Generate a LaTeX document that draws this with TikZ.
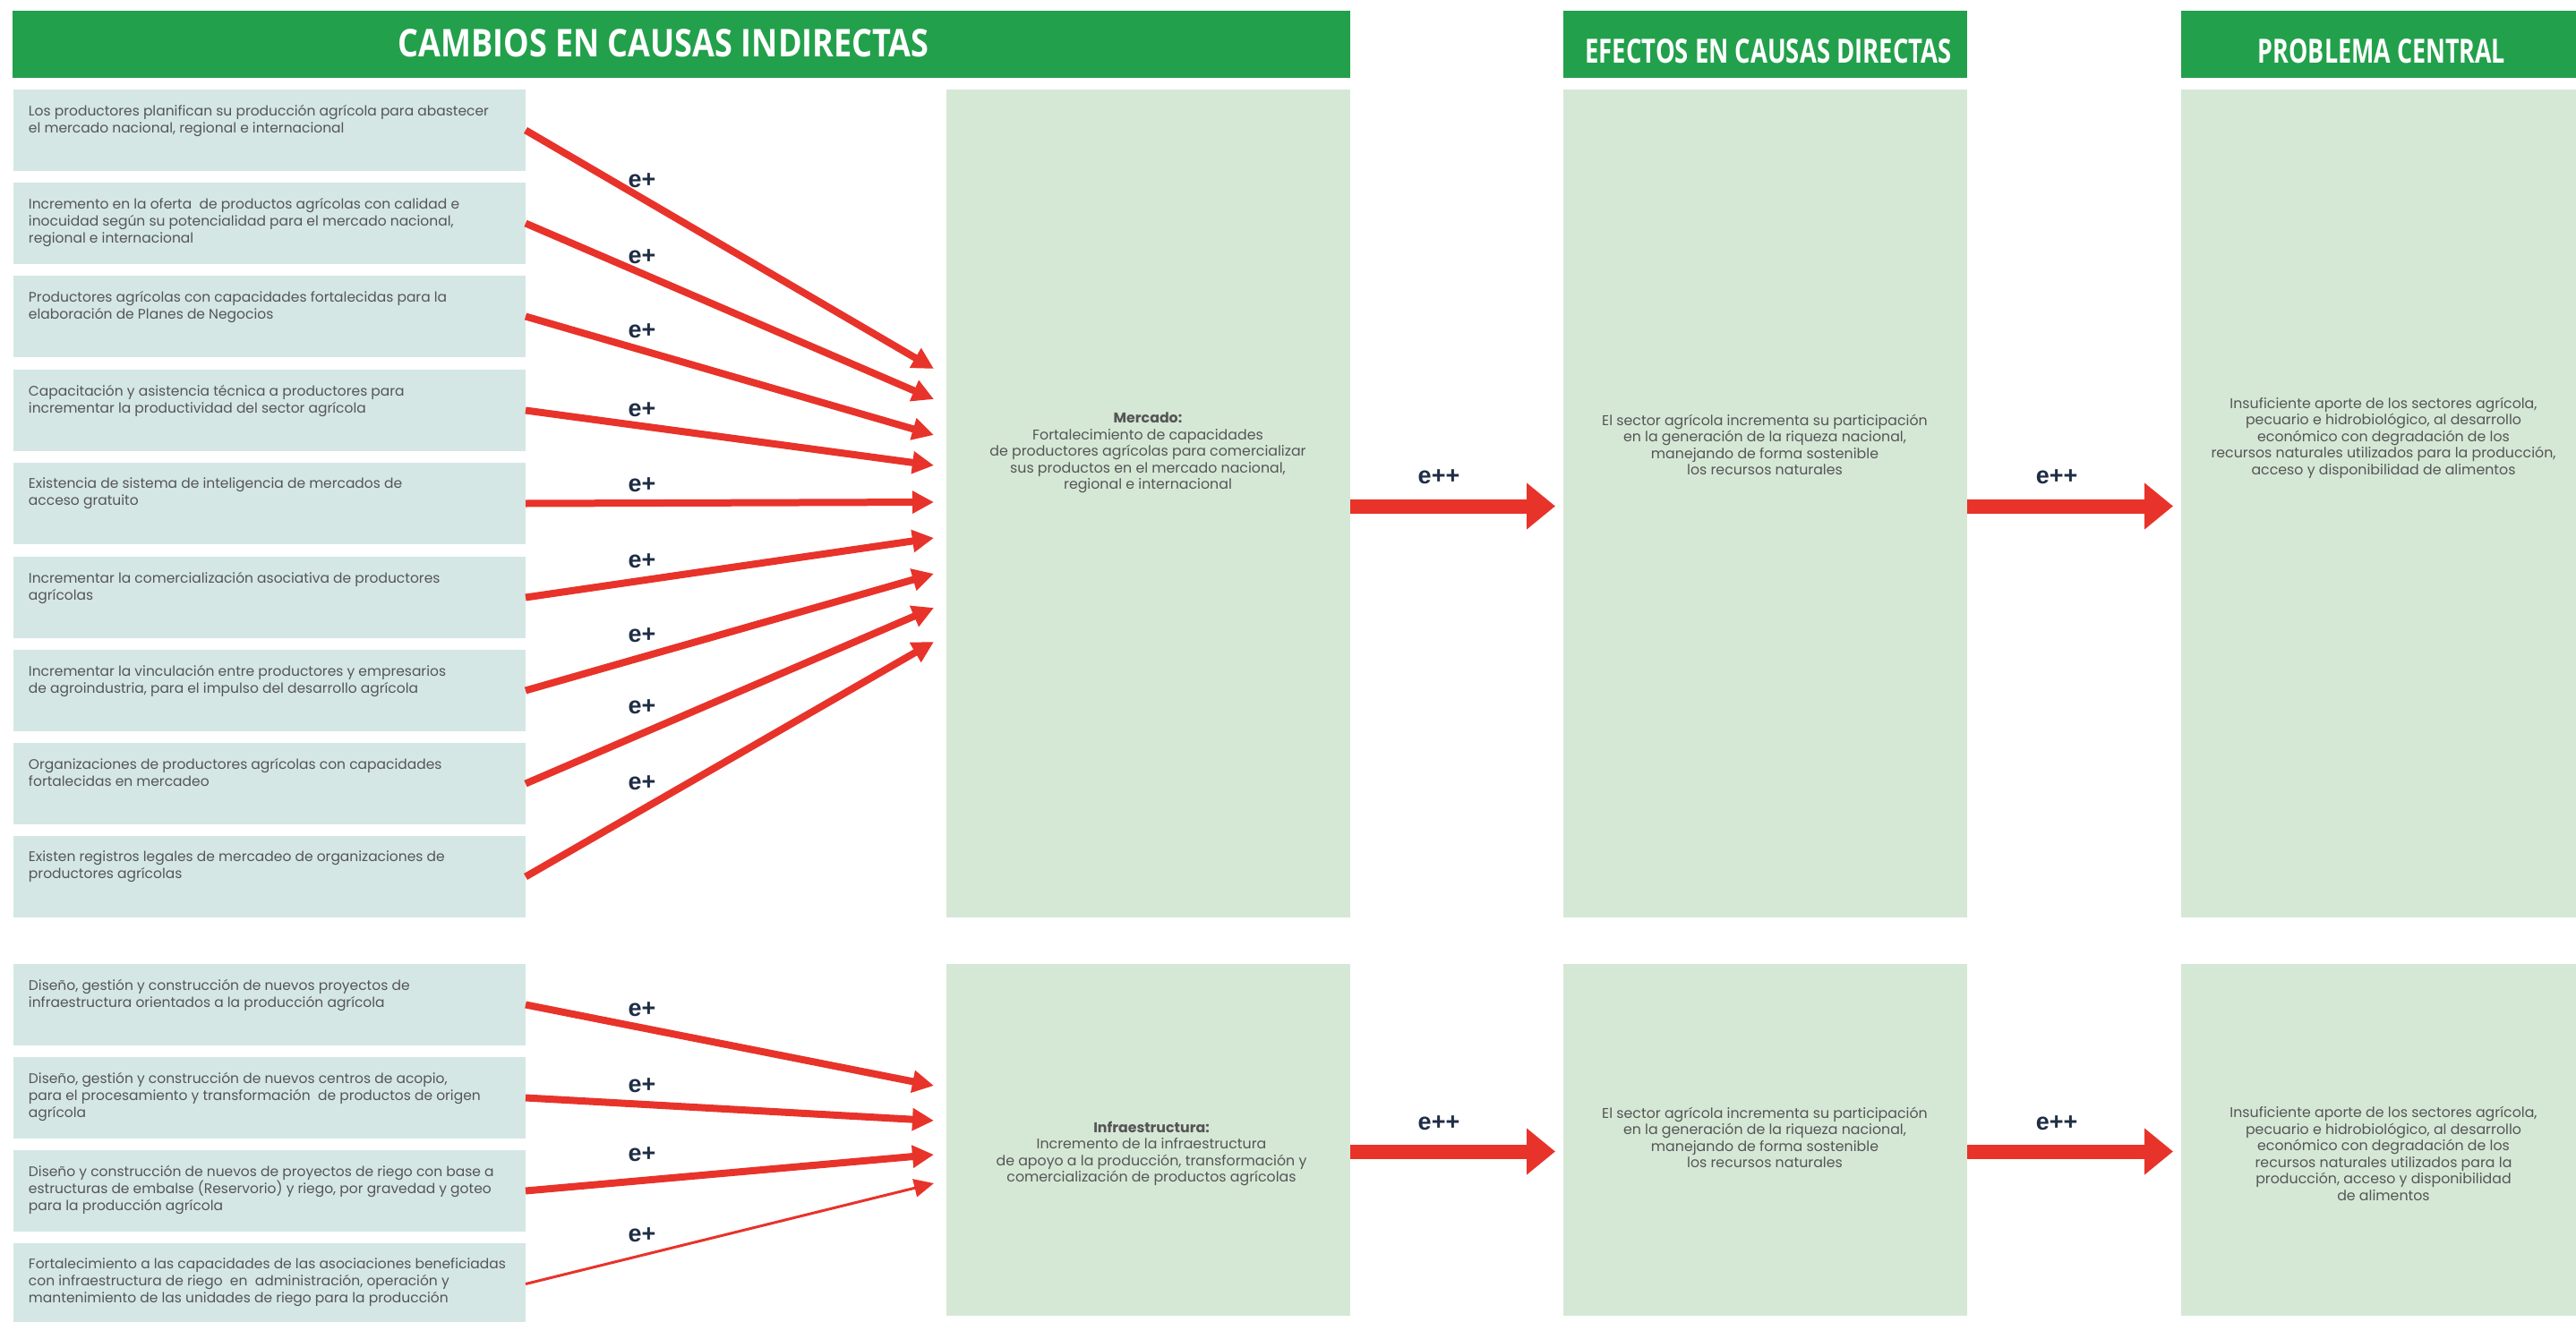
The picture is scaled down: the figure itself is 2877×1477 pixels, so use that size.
\documentclass[tikz,border=0pt]{standalone}
\usepackage{fontspec}
\setmainfont{Poppins}
\newfontfamily\headfont{Open Sans}
\newfontfamily\lblfont{Liberation Sans}
\usepackage{graphicx}
\usetikzlibrary{arrows.meta}
\definecolor{hdrgreen}{HTML}{23A04B}
\definecolor{leftfill}{HTML}{D4E7E5}
\definecolor{boxfill}{HTML}{D5E8D6}
\definecolor{arrred}{HTML}{E8332A}
\definecolor{txtgray}{HTML}{555555}
\definecolor{lblnavy}{HTML}{1F2D45}
\newcommand\lboxtext[1]{\parbox[c][91pt][t]{572pt}{\vspace*{17pt}\raggedright\leftskip=17pt #1}}
\begin{document}
\begin{tikzpicture}[x=1pt,y=-1pt,
  hdr/.style={fill=hdrgreen, anchor=north west, inner sep=0pt, outer sep=0pt, minimum height=75pt},
  hdrtext/.style={text=white, inner sep=0pt, font=\headfont\bfseries},
  leftbox/.style={fill=leftfill, anchor=north west, inner sep=0pt, outer sep=0pt, text=txtgray, font=\fontsize{15.5}{19}\selectfont},
  bigbox/.style={fill=boxfill, anchor=north west, inner sep=0pt, outer sep=0pt},
  btext/.style={align=center, text=txtgray, inner sep=0pt, font=\fontsize{15.8}{18.5}\selectfont},
  earr/.style={draw=arrred, line width=8pt, -{Triangle[length=24pt,width=24pt]}},
  thinarr/.style={draw=arrred, line width=3pt, -{Triangle[length=22pt,width=20pt]}},
  bigarr/.style={draw=arrred, line width=16pt, -{Triangle[length=32pt,width=50pt]}},
  elbl/.style={text=lblnavy, inner sep=0pt, font=\lblfont\bfseries\fontsize{27}{27}\selectfont}
]
\useasboundingbox (0,0) rectangle (2877,1477);

% headers
\node[hdr, minimum width=1494pt] (h1) at (14,12) {};
\node[hdr, minimum width=451pt] (h2) at (1746,12) {};
\node[hdr, minimum width=460pt] (h3) at (2436,12) {};
\node[hdrtext] (h1t) at (741,48) {\resizebox{593pt}{31pt}{CAMBIOS EN CAUSAS INDIRECTAS}};
\node[hdrtext] (h2t) at (1975,57) {\resizebox{409pt}{27pt}{EFECTOS EN CAUSAS DIRECTAS}};
\node[hdrtext] (h3t) at (2660,57) {\resizebox{276pt}{27pt}{PROBLEMA CENTRAL}};

% upper left boxes
\node[leftbox] (a1) at (15,100) {\lboxtext{Los productores planifican su producción agrícola para abastecer\\el mercado nacional, regional e internacional}};
\node[leftbox] (a2) at (15,204) {\lboxtext{Incremento en la oferta\ \ de productos agrícolas con calidad e\\inocuidad según su potencialidad para el mercado nacional,\\regional e internacional}};
\node[leftbox] (a3) at (15,308) {\lboxtext{Productores agrícolas con capacidades fortalecidas para la\\elaboración de Planes de Negocios}};
\node[leftbox] (a4) at (15,413) {\lboxtext{Capacitación y asistencia técnica a productores para\\incrementar la productividad del sector agrícola}};
\node[leftbox] (a5) at (15,517) {\lboxtext{Existencia de sistema de inteligencia de mercados de\\acceso gratuito}};
\node[leftbox] (a6) at (15,622) {\lboxtext{Incrementar la comercialización asociativa de productores\\agrícolas}};
\node[leftbox] (a7) at (15,726) {\lboxtext{Incrementar la vinculación entre productores y empresarios\\de agroindustria, para el impulso del desarrollo agrícola}};
\node[leftbox] (a8) at (15,830) {\lboxtext{Organizaciones de productores agrícolas con capacidades\\fortalecidas en mercadeo}};
\node[leftbox] (a9) at (15,934) {\lboxtext{Existen registros legales de mercadeo de organizaciones de\\productores agrícolas}};

% lower left boxes
\node[leftbox] (b1) at (15,1077) {\lboxtext{Diseño, gestión y construcción de nuevos proyectos de\\infraestructura orientados a la producción agrícola}};
\node[leftbox] (b2) at (15,1181) {\lboxtext{Diseño, gestión y construcción de nuevos centros de acopio,\\para el procesamiento y transformación\ \ de productos de origen\\agrícola}};
\node[leftbox] (b3) at (15,1285) {\lboxtext{Diseño y construcción de nuevos de proyectos de riego con base a\\estructuras de embalse (Reservorio) y riego, por gravedad y goteo\\para la producción agrícola}};
\node[leftbox] (b4) at (15,1389) {\lboxtext{Fortalecimiento a las capacidades de las asociaciones beneficiadas\\con infraestructura de riego\ \ en\ \ administración, operación y\\mantenimiento de las unidades de riego para la producción}};

% big boxes
\node[bigbox, minimum width=451pt, minimum height=925pt] (m) at (1057,100) {};
\node[bigbox, minimum width=451pt, minimum height=925pt] (e) at (1746,100) {};
\node[bigbox, minimum width=460pt, minimum height=925pt] (p) at (2436,100) {};
\node[bigbox, minimum width=451pt, minimum height=393pt] (mi) at (1057,1077) {};
\node[bigbox, minimum width=451pt, minimum height=393pt] (ei) at (1746,1077) {};
\node[bigbox, minimum width=460pt, minimum height=393pt] (pi) at (2436,1077) {};

\node[btext] (mt) at (1282,506) {\textbf{Mercado:}\\Fortalecimiento de capacidades\\de productores agrícolas para comercializar\\sus productos en el mercado nacional,\\regional e internacional};
\node[btext] (et) at (1971,497) {El sector agrícola incrementa su participación\\en la generación de la riqueza nacional,\\manejando de forma sostenible\\los recursos naturales};
\node[btext] (pt) at (2662,489) {Insuficiente aporte de los sectores agrícola,\\pecuario e hidrobiológico, al desarrollo\\económico con degradación de los\\recursos naturales utilizados para la producción,\\acceso y disponibilidad de alimentos};
\node[btext] (mit) at (1286,1289) {\textbf{Infraestructura:}\\Incremento de la infraestructura\\de apoyo a la producción, transformación y\\comercialización de productos agrícolas};
\node[btext] (eit) at (1971,1271) {El sector agrícola incrementa su participación\\en la generación de la riqueza nacional,\\manejando de forma sostenible\\los recursos naturales};
\node[btext] (pit) at (2662,1289) {Insuficiente aporte de los sectores agrícola,\\pecuario e hidrobiológico, al desarrollo\\económico con degradación de los\\recursos naturales utilizados para la\\producción, acceso y disponibilidad\\de alimentos};

% arrow end coordinates
\coordinate (t1) at (1043,412);
\coordinate (t2) at (1043,446);
\coordinate (t3) at (1043,486);
\coordinate (t4) at (1043,520);
\coordinate (t5) at (1043,561);
\coordinate (t6) at (1043,601);
\coordinate (t7) at (1043,641);
\coordinate (t8) at (1043,679);
\coordinate (t9) at (1043,717);
\coordinate (u1) at (1043,1213);
\coordinate (u2) at (1043,1252);
\coordinate (u3) at (1043,1290);
\coordinate (u4) at (1043,1322);

\foreach \i in {1,...,9} {\draw[earr] (a\i.east) -- (t\i);}
\draw[earr] (b1.east) -- (u1);
\draw[earr] (b2.east) -- (u2);
\draw[earr] (b3.east) -- (u3);
\draw[thinarr] (b4.east) -- (u4);

\draw[bigarr, shorten >=9pt] ([yshift=-3pt]m.east) -- ([yshift=-3pt]e.west);
\draw[bigarr, shorten >=9pt] ([yshift=-3pt]e.east) -- ([yshift=-3pt]p.west);
\draw[bigarr, shorten >=9pt] ([yshift=-13pt]mi.east) -- ([yshift=-13pt]ei.west);
\draw[bigarr, shorten >=9pt] ([yshift=-13pt]ei.east) -- ([yshift=-13pt]pi.west);

% labels
\foreach \y [count=\k] in {202,287,370,458,542,627,710,790,875} {\node[elbl] (la\k) at (717,\y) {e+};}
\foreach \y [count=\k] in {1128,1213,1290,1380} {\node[elbl] (lb\k) at (717,\y) {e+};}
\node[elbl] (l1) at (1607,533) {e++};
\node[elbl] (l2) at (2297,533) {e++};
\node[elbl] (l3) at (1607,1255) {e++};
\node[elbl] (l4) at (2297,1255) {e++};
\end{tikzpicture}
\end{document}
